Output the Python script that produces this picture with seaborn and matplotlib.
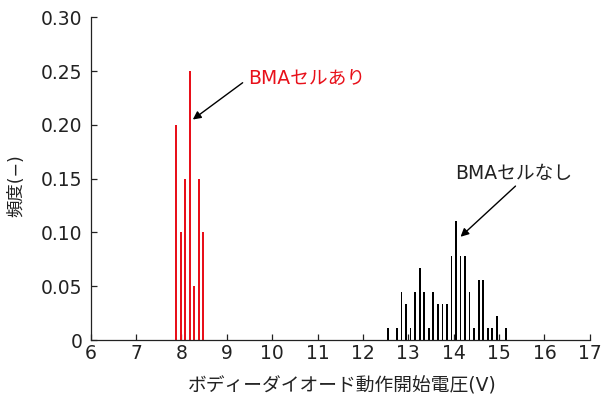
import pandas as pd
import matplotlib
matplotlib.use("Agg")
import matplotlib.pyplot as plt
import seaborn as sns

# histogram of body-diode turn-on voltage (frequency per 0.1 V bin)
with_bma_v = [7.88, 7.98, 8.08, 8.18, 8.28, 8.38, 8.48]
with_bma_freq = [0.20, 0.10, 0.15, 0.25, 0.05, 0.15, 0.10]

without_bma_v = [12.55, 12.75, 12.85, 12.95, 13.05, 13.15, 13.25, 13.35, 13.45,
                 13.55, 13.65, 13.75, 13.85, 13.95, 14.05, 14.15, 14.25, 14.35,
                 14.45, 14.55, 14.65, 14.75, 14.85, 14.95, 15.15]
without_bma_count = [1, 1, 4, 3, 1, 4, 6, 4, 1, 4, 3, 3, 3, 7, 10, 7, 7, 4,
                     1, 5, 5, 1, 1, 2, 1]
without_bma_freq = [c / 90 for c in without_bma_count]

x_ticks = list(range(6, 18))
y_ticks = [0, 0.05, 0.10, 0.15, 0.20, 0.25, 0.30]
y_tick_labels = ["0", "0.05", "0.10", "0.15", "0.20", "0.25", "0.30"]

sns.set_style("ticks")
plt.rcParams["font.family"] = ["DejaVu Sans", "Noto Sans CJK JP"]

df_with = pd.DataFrame({"V": with_bma_v, "freq": with_bma_freq})
df_without = pd.DataFrame({"V": without_bma_v, "freq": without_bma_freq})

fig = plt.figure(figsize=(6.1, 3.94), dpi=100)
ax = fig.add_axes([0.1487, 0.137, 0.8183, 0.819])

red = "#e8101a"
txt = "#222222"
sns.barplot(data=df_with, x="V", y="freq", native_scale=True, color=red,
            saturation=1, width=0.45, errorbar=None, linewidth=0, ax=ax)
sns.barplot(data=df_without, x="V", y="freq", native_scale=True, color="black",
            saturation=1, width=0.38, errorbar=None, linewidth=0, ax=ax)

ax.set_xlim(6, 17)
ax.set_ylim(0, 0.30)
ax.set_xticks(x_ticks)
ax.set_xticklabels([str(t) for t in x_ticks])
ax.set_yticks(y_ticks)
ax.set_yticklabels(y_tick_labels)
ax.tick_params(direction="in", length=4, width=0.9, labelsize=13.5,
               colors=txt)
ax.tick_params(axis="y", pad=6)
ax.tick_params(axis="x", pad=3)
sns.despine(ax=ax)
for s in ["left", "bottom"]:
    ax.spines[s].set_linewidth(0.9)
    ax.spines[s].set_color(txt)

ax.set_xlabel("ボディーダイオード動作開始電圧(V)", fontsize=13.5, color=txt)
ax.xaxis.set_label_coords(0.503, -0.112)
ax.set_ylabel("頻度(−)", fontsize=12.5, color=txt)
ax.yaxis.set_label_coords(-0.131, 0.477)

ax.annotate("BMAセルあり", xy=(8.25, 0.205), xytext=(9.47, 0.243),
            color=red, fontsize=13.5, va="center", ha="left",
            arrowprops=dict(arrowstyle="-|>", color="black", lw=1,
                            mutation_scale=12, shrinkA=2, shrinkB=0,
                            relpos=(0, 0.5)))
ax.annotate("BMAセルなし", xy=(14.15, 0.096), xytext=(14.02, 0.155),
            color=txt, fontsize=13.5, va="center", ha="left",
            arrowprops=dict(arrowstyle="-|>", color="black", lw=1,
                            mutation_scale=12, shrinkA=0, shrinkB=0,
                            relpos=(0.55, 0)))

fig.savefig("out.png", dpi=100)
